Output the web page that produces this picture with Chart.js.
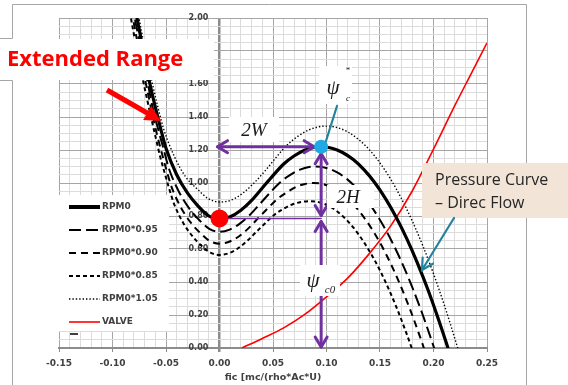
<!DOCTYPE html>
<html>
<head>
<meta charset="utf-8">
<title>Compressor characteristic</title>
<script src="https://cdn.jsdelivr.net/npm/chart.js@4.4.0/dist/chart.umd.min.js"></script>
<style>
  html, body { margin: 0; padding: 0; background: #fff; }
  #chart { display: block; }
</style>
</head>
<body>
<canvas id="chart" width="568" height="385"></canvas>
<script>
// Axis ticks that carry a label (the rest are minor grid lines)
const xMajorTicks = [-0.15, -0.10, -0.05, 0.00, 0.05, 0.10, 0.15, 0.20, 0.25];
const yMajorTicks = [0.00, 0.20, 0.40, 0.60, 0.80, 1.00, 1.20, 1.40, 1.60, 1.80, 2.00];

// Speed lines: flow coefficient (fic) vs pressure rise
const rpm0Phi = [-0.100, -0.095, -0.090, -0.085, -0.080, -0.075, -0.070, -0.065, -0.060, -0.055, -0.050, -0.040, -0.030, -0.020, -0.010, 0.000,
  0.010, 0.020, 0.030, 0.040, 0.050, 0.060, 0.070, 0.080, 0.088, 0.095,
  0.105, 0.115, 0.125, 0.135, 0.145, 0.155, 0.165, 0.175, 0.185, 0.195, 0.205, 0.213, 0.222];
const rpm0Psi = [2.88, 2.67, 2.47, 2.28, 2.10, 1.93, 1.76, 1.60, 1.46, 1.33, 1.21, 1.05, 0.94, 0.86, 0.80, 0.78,
  0.795, 0.835, 0.895, 0.97, 1.045, 1.115, 1.165, 1.20, 1.215, 1.22,
  1.211, 1.185, 1.142, 1.081, 1.003, 0.907, 0.794, 0.663, 0.515, 0.35, 0.167, 0.01, -0.18];

const rpm095Phi = [-0.095, -0.090, -0.0855, -0.081, -0.076, -0.071, -0.0665, -0.062, -0.057, -0.052, -0.0475, -0.038, -0.0285, -0.019, -0.0095, 0.000,
  0.0095, 0.019, 0.0285, 0.038, 0.0475, 0.057, 0.0665, 0.076, 0.0836, 0.090,
  0.100, 0.110, 0.120, 0.130, 0.140, 0.150, 0.160, 0.170, 0.180, 0.190, 0.2006, 0.210];
const rpm095Psi = [2.60, 2.41, 2.23, 2.06, 1.895, 1.742, 1.588, 1.444, 1.318, 1.200, 1.092, 0.948, 0.848, 0.776, 0.722, 0.704,
  0.7175, 0.754, 0.808, 0.875, 0.943, 1.006, 1.051, 1.083, 1.097, 1.10,
  1.091, 1.064, 1.019, 0.956, 0.875, 0.776, 0.659, 0.524, 0.371, 0.20, 0.0, -0.18];

const rpm090Phi = [-0.090, -0.0855, -0.081, -0.0765, -0.072, -0.0675, -0.063, -0.0585, -0.054, -0.0495, -0.045, -0.036, -0.027, -0.018, -0.009, 0.000,
  0.009, 0.018, 0.027, 0.036, 0.045, 0.054, 0.063, 0.072, 0.0792, 0.088,
  0.098, 0.108, 0.118, 0.128, 0.138, 0.148, 0.158, 0.168, 0.178, 0.188, 0.191, 0.198];
const rpm090Psi = [2.333, 2.163, 2.001, 1.847, 1.701, 1.563, 1.426, 1.296, 1.183, 1.077, 0.980, 0.851, 0.761, 0.697, 0.648, 0.632,
  0.644, 0.676, 0.725, 0.786, 0.846, 0.903, 0.944, 0.978, 0.993, 1.0,
  0.991, 0.962, 0.915, 0.849, 0.764, 0.661, 0.538, 0.396, 0.236, 0.057, 0.0, -0.14];

const rpm085Phi = [-0.085, -0.0808, -0.0765, -0.0723, -0.068, -0.0638, -0.0595, -0.0553, -0.051, -0.0468, -0.0425, -0.034, -0.0255, -0.017, -0.0085, 0.000,
  0.0085, 0.017, 0.0255, 0.034, 0.0425, 0.051, 0.0595, 0.068, 0.0765, 0.085,
  0.095, 0.105, 0.115, 0.125, 0.135, 0.145, 0.155, 0.165, 0.175, 0.1796, 0.188];
const rpm085Psi = [2.081, 1.929, 1.785, 1.647, 1.517, 1.394, 1.272, 1.156, 1.055, 0.961, 0.874, 0.759, 0.679, 0.621, 0.578, 0.564,
  0.574, 0.603, 0.647, 0.701, 0.755, 0.806, 0.842, 0.87, 0.885, 0.89,
  0.880, 0.850, 0.800, 0.731, 0.641, 0.532, 0.402, 0.253, 0.084, 0.0, -0.17];

const rpm105Phi = [-0.0945, -0.0893, -0.084, -0.0788, -0.0735, -0.0683, -0.063, -0.0578, -0.0525, -0.042, -0.0315, -0.021, -0.0105, 0.000,
  0.0105, 0.021, 0.0315, 0.042, 0.0525, 0.063, 0.0735, 0.084, 0.0924, 0.100,
  0.110, 0.120, 0.130, 0.140, 0.150, 0.160, 0.170, 0.180, 0.190, 0.200, 0.210, 0.2226, 0.230];
const rpm105Psi = [2.723, 2.514, 2.315, 2.128, 1.940, 1.764, 1.610, 1.466, 1.334, 1.158, 1.036, 0.965, 0.905, 0.885,
  0.895, 0.935, 0.995, 1.069, 1.152, 1.229, 1.284, 1.323, 1.340, 1.345,
  1.336, 1.309, 1.264, 1.202, 1.121, 1.023, 0.906, 0.772, 0.620, 0.450, 0.262, 0.0, -0.17];

// Throttle valve line
const valvePhi = [0.021, 0.040, 0.060, 0.080, 0.100, 0.120, 0.140, 0.160, 0.180, 0.200, 0.220, 0.235, 0.250];
const valvePsi = [0.00, 0.058, 0.122, 0.205, 0.31, 0.425, 0.572, 0.74, 0.95, 1.205, 1.47, 1.66, 1.85];

// Characteristic points [phi, psi]
const psiC0Point = [0.000, 0.785];
const psiCStarPoint = [0.095, 1.22];

const legendOrder = ['RPM0', 'RPM0*0.95', 'RPM0*0.90', 'RPM0*0.85', 'RPM0*1.05', 'VALVE'];

const PURPLE = '#7030a0';
const TEAL = '#23839e';

function toPoints(phi, psi) {
  return phi.map((x, i) => ({ x: x, y: psi[i] }));
}

function isMajor(value, majors) {
  return majors.some(m => Math.abs(m - value) < 1e-6);
}

function curve(label, phi, psi, style) {
  return Object.assign({
    label: label,
    data: toPoints(phi, psi),
    showLine: true,
    pointRadius: 0,
    pointHoverRadius: 0,
    borderColor: '#000',
    borderWidth: 2,
    fill: false,
    cubicInterpolationMode: 'monotone'
  }, style);
}

// open "V" arrow head, (ux, uy) points toward the tip
function openHead(ctx, x, y, ux, uy, len, half) {
  const bx = x - ux * len, by = y - uy * len;
  ctx.beginPath();
  ctx.moveTo(bx - uy * half, by + ux * half);
  ctx.lineTo(x, y);
  ctx.lineTo(bx + uy * half, by - ux * half);
  ctx.stroke();
}

function line(ctx, x1, y1, x2, y2) {
  ctx.beginPath();
  ctx.moveTo(x1, y1);
  ctx.lineTo(x2, y2);
  ctx.stroke();
}

// 2W / 2H dimension arrows between the two characteristic points
function drawDimensions(chart) {
  const ctx = chart.ctx;
  const xs = chart.scales.x, ys = chart.scales.y;
  const x0 = xs.getPixelForValue(psiC0Point[0]);
  const xc = xs.getPixelForValue(psiCStarPoint[0]);
  const yTop = ys.getPixelForValue(psiCStarPoint[1]);
  const yMid = ys.getPixelForValue(psiC0Point[1]);
  const yBot = ys.getPixelForValue(0);

  ctx.save();
  ctx.strokeStyle = PURPLE;
  ctx.lineCap = 'round';
  ctx.lineJoin = 'round';

  ctx.lineWidth = 1.5;
  line(ctx, x0, yMid, xc, yMid);

  ctx.lineWidth = 3;
  line(ctx, x0 - 2, yTop, xc - 7, yTop);
  openHead(ctx, x0 - 2, yTop, -1, 0, 10, 6);
  openHead(ctx, xc - 7, yTop, 1, 0, 10, 6);

  line(ctx, xc, yTop + 7, xc, yMid - 3);
  openHead(ctx, xc, yTop + 7, 0, -1, 10, 6);
  openHead(ctx, xc, yMid - 3, 0, 1, 10, 6);

  line(ctx, xc, yMid + 3, xc, yBot - 1);
  openHead(ctx, xc, yMid + 3, 0, -1, 10, 6);
  openHead(ctx, xc, yBot - 1, 0, 1, 10, 6);
  ctx.restore();
}

function drawFrame(ctx) {
  ctx.save();
  ctx.strokeStyle = '#a6a6a6';
  ctx.lineWidth = 1;
  ctx.beginPath();
  ctx.moveTo(0, 38.5); ctx.lineTo(12.5, 38.5); ctx.lineTo(12.5, 4.5);
  ctx.lineTo(526.5, 4.5); ctx.lineTo(526.5, 385);
  ctx.moveTo(0, 80.5); ctx.lineTo(12.5, 80.5); ctx.lineTo(12.5, 385);
  ctx.stroke();
  ctx.restore();
}

function drawLegend(chart) {
  const ctx = chart.ctx;
  ctx.save();
  ctx.fillStyle = '#fff';
  ctx.fillRect(59, 195, 110, 136);
  ctx.font = 'bold 9px "DejaVu Sans"';
  ctx.textBaseline = 'middle';
  legendOrder.forEach((label, i) => {
    const ds = chart.data.datasets.find(d => d.label === label);
    const y = 207 + i * 23;
    ctx.strokeStyle = ds.borderColor;
    ctx.lineWidth = label === 'RPM0' ? 4 : ds.borderWidth;
    ctx.setLineDash(ds.borderDash || []);
    line(ctx, 69, y, 100, y);
    ctx.fillStyle = '#404040';
    ctx.fillText(label, 102, y);
  });
  ctx.setLineDash([]);
  ctx.strokeStyle = '#404040';
  ctx.lineWidth = 2;
  line(ctx, 70, 334, 78, 334);
  ctx.restore();
}

function drawCallouts(chart) {
  const ctx = chart.ctx;
  ctx.save();

  // Extended Range callout with red arrow
  ctx.fillStyle = '#fff';
  ctx.fillRect(0, 39, 214, 41);
  ctx.fillStyle = '#ff0000';
  ctx.font = 'bold 22px "Open Sans"';
  ctx.textBaseline = 'middle';
  ctx.fillText('Extended Range', 7, 60);

  ctx.strokeStyle = '#ff0000';
  ctx.lineWidth = 5;
  line(ctx, 107, 90, 149, 114);
  const ux = 0.867, uy = 0.498;
  ctx.beginPath();
  ctx.moveTo(161, 121);
  ctx.lineTo(161 - ux * 16 - uy * 8, 121 - uy * 16 + ux * 8);
  ctx.lineTo(161 - ux * 16 + uy * 8, 121 - uy * 16 - ux * 8);
  ctx.closePath();
  ctx.fill();

  // Pressure curve callout
  ctx.fillStyle = '#f2e5d8';
  ctx.fillRect(422, 163, 146, 55);
  ctx.fillStyle = '#262626';
  ctx.font = '16px "Open Sans"';
  ctx.fillText('Pressure Curve', 435, 180);
  ctx.fillText('\u2013 Direc Flow', 435, 203);

  ctx.strokeStyle = TEAL;
  ctx.lineWidth = 2.2;
  ctx.lineCap = 'round';
  line(ctx, 454, 218, 422, 270);
  const len = Math.hypot(-32, 52);
  openHead(ctx, 422, 270, -32 / len, 52 / len, 11, 6);

  // psi_c* label and leader to the peak point
  line(ctx, 337, 106, 326, 141);
  ctx.fillStyle = '#fff';
  ctx.fillRect(319, 66, 33, 38);
  ctx.fillStyle = '#1a1a1a';
  ctx.font = 'italic 21px "Liberation Serif"';
  ctx.textAlign = 'center';
  ctx.fillText('\u03c8', 333, 88);
  ctx.font = 'italic 9px "Liberation Serif"';
  ctx.fillText('c', 348, 99);
  ctx.font = '9px "Liberation Serif"';
  ctx.fillText('*', 348, 71);

  // psi_c0 label
  ctx.fillStyle = '#fff';
  ctx.fillRect(300, 265, 40, 31);
  ctx.fillStyle = '#1a1a1a';
  ctx.font = 'italic 21px "Liberation Serif"';
  ctx.fillText('\u03c8', 313, 281);
  ctx.font = 'italic 11px "Liberation Serif"';
  ctx.fillText('c0', 330, 290);

  // 2W and 2H labels
  ctx.fillStyle = '#fff';
  ctx.fillRect(229, 117, 50, 25);
  ctx.fillRect(327, 185, 47, 23);
  ctx.fillStyle = '#1a1a1a';
  ctx.font = 'italic 19px "Liberation Serif"';
  ctx.fillText('2W', 254, 131);
  ctx.fillText('2H', 348, 198);
  ctx.restore();
}

const annotations = {
  id: 'annotations',
  beforeDraw(chart) {
    const ctx = chart.ctx;
    ctx.save();
    ctx.fillStyle = '#fff';
    ctx.fillRect(0, 0, chart.width, chart.height);
    ctx.restore();
  },
  afterDatasetDraw(chart, args) {
    // speed lines are done, draw the arrows before the two marker dots
    if (args.index === 2) drawDimensions(chart);
  },
  afterDraw(chart) {
    drawFrame(chart.ctx);
    drawLegend(chart);
    drawCallouts(chart);
  }
};

const axisFont = { family: 'DejaVu Sans', weight: 'bold' };

new Chart(document.getElementById('chart'), {
  type: 'scatter',
  data: {
    datasets: [
      { label: 'psi_c0', data: [{ x: psiC0Point[0], y: psiC0Point[1] }], pointRadius: 9, pointHoverRadius: 9,
        backgroundColor: '#ff0000', borderWidth: 0, showLine: false },
      { label: 'psi_c*', data: [{ x: psiCStarPoint[0], y: psiCStarPoint[1] }], pointRadius: 7, pointHoverRadius: 7,
        backgroundColor: '#1fa9e6', borderWidth: 0, showLine: false },
      curve('RPM0', rpm0Phi, rpm0Psi, { borderWidth: 3.2 }),
      curve('VALVE', valvePhi, valvePsi, { borderColor: '#ff0000', borderWidth: 1.6 }),
      curve('RPM0*1.05', rpm105Phi, rpm105Psi, { borderWidth: 1.4, borderDash: [1.4, 2] }),
      curve('RPM0*0.95', rpm095Phi, rpm095Psi, { borderDash: [12, 5] }),
      curve('RPM0*0.90', rpm090Phi, rpm090Psi, { borderDash: [7, 5] }),
      curve('RPM0*0.85', rpm085Phi, rpm085Psi, { borderDash: [4, 3] })
    ]
  },
  options: {
    responsive: false,
    animation: false,
    devicePixelRatio: 1,
    layout: { padding: { left: 59, right: 81, top: 18, bottom: 0 } },
    plugins: {
      legend: { display: false },
      tooltip: { enabled: false }
    },
    scales: {
      x: {
        type: 'linear',
        min: -0.15,
        max: 0.25,
        ticks: {
          stepSize: 0.01,
          autoSkip: false,
          maxRotation: 0,
          padding: 6,
          color: '#404040',
          font: Object.assign({ size: 9 }, axisFont),
          callback: v => isMajor(v, xMajorTicks) ? v.toFixed(2) : ''
        },
        grid: {
          color: c => Math.abs(c.tick.value) < 1e-6 ? '#8c8c8c' : (isMajor(c.tick.value, xMajorTicks) ? '#a6a6a6' : '#dcdcdc'),
          lineWidth: c => Math.abs(c.tick.value) < 1e-6 ? 2.5 : 1,
          tickLength: 4,
          tickColor: c => isMajor(c.tick.value, xMajorTicks) ? '#8c8c8c' : 'rgba(0,0,0,0)'
        },
        border: { color: '#8c8c8c', width: 2 },
        title: {
          display: true,
          text: 'fic [mc/(rho*Ac*U)',
          color: '#404040',
          font: Object.assign({ size: 9.5 }, axisFont),
          padding: { top: 0, bottom: 2 }
        },
        afterFit: s => { s.height = 37; }
      },
      y: {
        type: 'linear',
        min: 0,
        max: 2,
        position: { x: -0.0105 },
        ticks: {
          stepSize: 0.05,
          autoSkip: false,
          color: '#404040',
          font: Object.assign({ size: 8 }, axisFont),
          callback: v => isMajor(v, yMajorTicks) ? v.toFixed(2) : ''
        },
        grid: {
          color: c => isMajor(c.tick.value, yMajorTicks) ? '#a6a6a6' : '#dcdcdc',
          drawTicks: false
        },
        border: { display: false }
      }
    }
  },
  plugins: [annotations]
});
</script>
</body>
</html>
